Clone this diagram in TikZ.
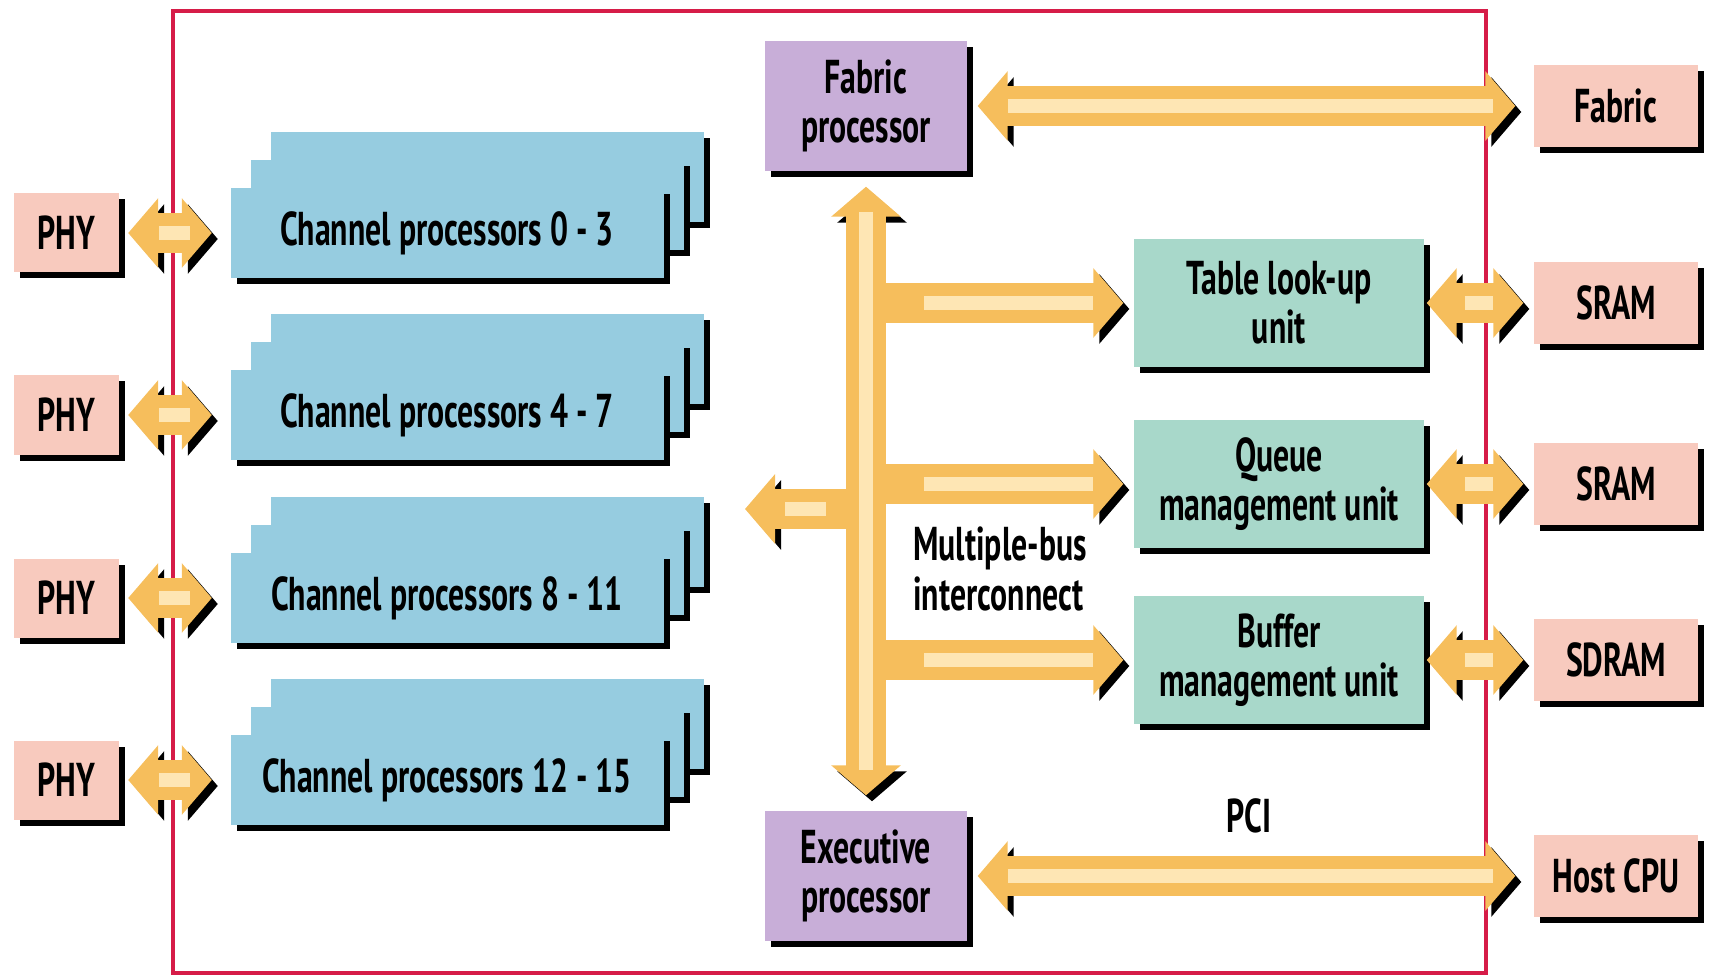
\documentclass[tikz,border=0pt]{standalone}
\usepackage{fontspec}
\setmainfont{PT Sans}[FakeStretch=0.67]
\usetikzlibrary{arrows.meta, shadows}

\definecolor{phypink}{RGB}{248,202,190}
\definecolor{proclav}{RGB}{200,174,216}
\definecolor{chanblue}{RGB}{150,204,224}
\definecolor{unitgreen}{RGB}{168,216,202}
\definecolor{busorange}{RGB}{246,190,92}
\definecolor{busglow}{RGB}{254,230,180}
\definecolor{chipred}{RGB}{214,28,72}

\begin{document}
\begin{tikzpicture}[
    box/.style={rectangle, inner sep=0pt, align=center, font=\fontsize{13.5}{14}\selectfont\bfseries,
        drop shadow={shadow xshift=0.06cm, shadow yshift=-0.06cm, fill=black, opacity=1}},
    phy/.style={box, fill=phypink, minimum width=1.05cm, minimum height=0.79cm},
    ext/.style={box, fill=phypink, minimum width=1.64cm, minimum height=0.82cm},
    chan/.style={box, fill=chanblue, minimum width=4.33cm, minimum height=0.9cm},
    unitbox/.style={box, fill=unitgreen, minimum width=2.9cm, minimum height=1.28cm},
    proc/.style={box, fill=proclav, minimum width=2.02cm, minimum height=1.3cm},
    note/.style={align=left, font=\fontsize{13.5}{14}\selectfont\bfseries},
    link/.style={draw=busorange, line width=0.4cm,
        preaction={draw=black, transform canvas={shift={(0.06,-0.06)}}},
        postaction={draw=busglow, line width=0.14cm, arrows=-, shorten <=0.4cm, shorten >=0.4cm}},
    linkboth/.style={link, {Triangle[length=0.3cm, width=0.68cm]}-{Triangle[length=0.3cm, width=0.68cm]}},
    linkone/.style={link, -{Triangle[length=0.3cm, width=0.68cm]}}
]
\useasboundingbox (0,0) rectangle (17.18,9.78);

% chip outline
\draw[chipred, line width=0.04cm] (1.73,0.05) rectangle (14.86,9.67);

% PHY side
\node[phy] (phy1) at (0.66,7.45) {PHY};
\node[phy] (phy2) at (0.66,5.63) {PHY};
\node[phy] (phy3) at (0.66,3.80) {PHY};
\node[phy] (phy4) at (0.66,1.98) {PHY};

% Channel processor stacks
\node[chan] (cp1c) at (4.87,8.01) {};
\node[chan] (cp1b) at (4.67,7.73) {};
\node[chan] (cp1) at (4.47,7.45) {Channel processors 0 - 3};
\node[chan] (cp2c) at (4.87,6.19) {};
\node[chan] (cp2b) at (4.67,5.91) {};
\node[chan] (cp2) at (4.47,5.63) {Channel processors 4 - 7};
\node[chan] (cp3c) at (4.87,4.36) {};
\node[chan] (cp3b) at (4.67,4.08) {};
\node[chan] (cp3) at (4.47,3.80) {Channel processors 8 - 11};
\node[chan] (cp4c) at (4.87,2.54) {};
\node[chan] (cp4b) at (4.67,2.26) {};
\node[chan] (cp4) at (4.47,1.98) {Channel processors 12 - 15};

% Processors
\node[proc] (fproc) at (8.66,8.72) {Fabric\\processor};
\node[proc] (eproc) at (8.66,1.02) {Executive\\processor};

% Units
\node[unitbox] (tlu) at (12.79,6.75) {Table look-up\\unit};
\node[unitbox] (qmu) at (12.79,4.94) {Queue\\management unit};
\node[unitbox] (bmu) at (12.79,3.18) {Buffer\\management unit};

% Outside parts
\node[ext] (fab) at (16.16,8.72) {Fabric};
\node[ext] (sram1) at (16.16,6.75) {SRAM};
\node[ext] (sram2) at (16.16,4.94) {SRAM};
\node[ext] (sdram) at (16.16,3.18) {SDRAM};
\node[ext] (host) at (16.16,1.02) {Host CPU};

% Labels
\node[note] (mbi) at (10.0,4.09) {Multiple-bus\\interconnect};
\node[note] (pci) at (12.49,1.62) {PCI};

% Bus taps
\coordinate (b1) at (8.84,6.75);
\coordinate (b2) at (8.84,4.94);
\coordinate (b3) at (8.84,3.18);
\coordinate (bl) at (8.66,4.69);
\coordinate (lefttip) at (7.45,4.69);

% Multiple-bus interconnect
\draw[linkone] (bl) -- (lefttip);
\draw[linkboth, shorten <=0.15cm, shorten >=0.15cm] (fproc) -- (eproc);
\draw[linkone, shorten >=0.1cm] (b1) -- (tlu);
\draw[linkone, shorten >=0.1cm] (b2) -- (qmu);
\draw[linkone, shorten >=0.1cm] (b3) -- (bmu);

% Links
\draw[linkboth, shorten <=0.09cm, shorten >=0.18cm] (phy1) -- (cp1);
\draw[linkboth, shorten <=0.09cm, shorten >=0.18cm] (phy2) -- (cp2);
\draw[linkboth, shorten <=0.09cm, shorten >=0.18cm] (phy3) -- (cp3);
\draw[linkboth, shorten <=0.09cm, shorten >=0.18cm] (phy4) -- (cp4);
\draw[linkboth, shorten <=0.1cm, shorten >=0.18cm] (fproc) -- (fab);
\draw[linkboth, shorten <=0.02cm, shorten >=0.1cm] (tlu) -- (sram1);
\draw[linkboth, shorten <=0.02cm, shorten >=0.1cm] (qmu) -- (sram2);
\draw[linkboth, shorten <=0.02cm, shorten >=0.1cm] (bmu) -- (sdram);
\draw[linkboth, shorten <=0.1cm, shorten >=0.18cm] (eproc) -- (host);
\end{tikzpicture}
\end{document}
